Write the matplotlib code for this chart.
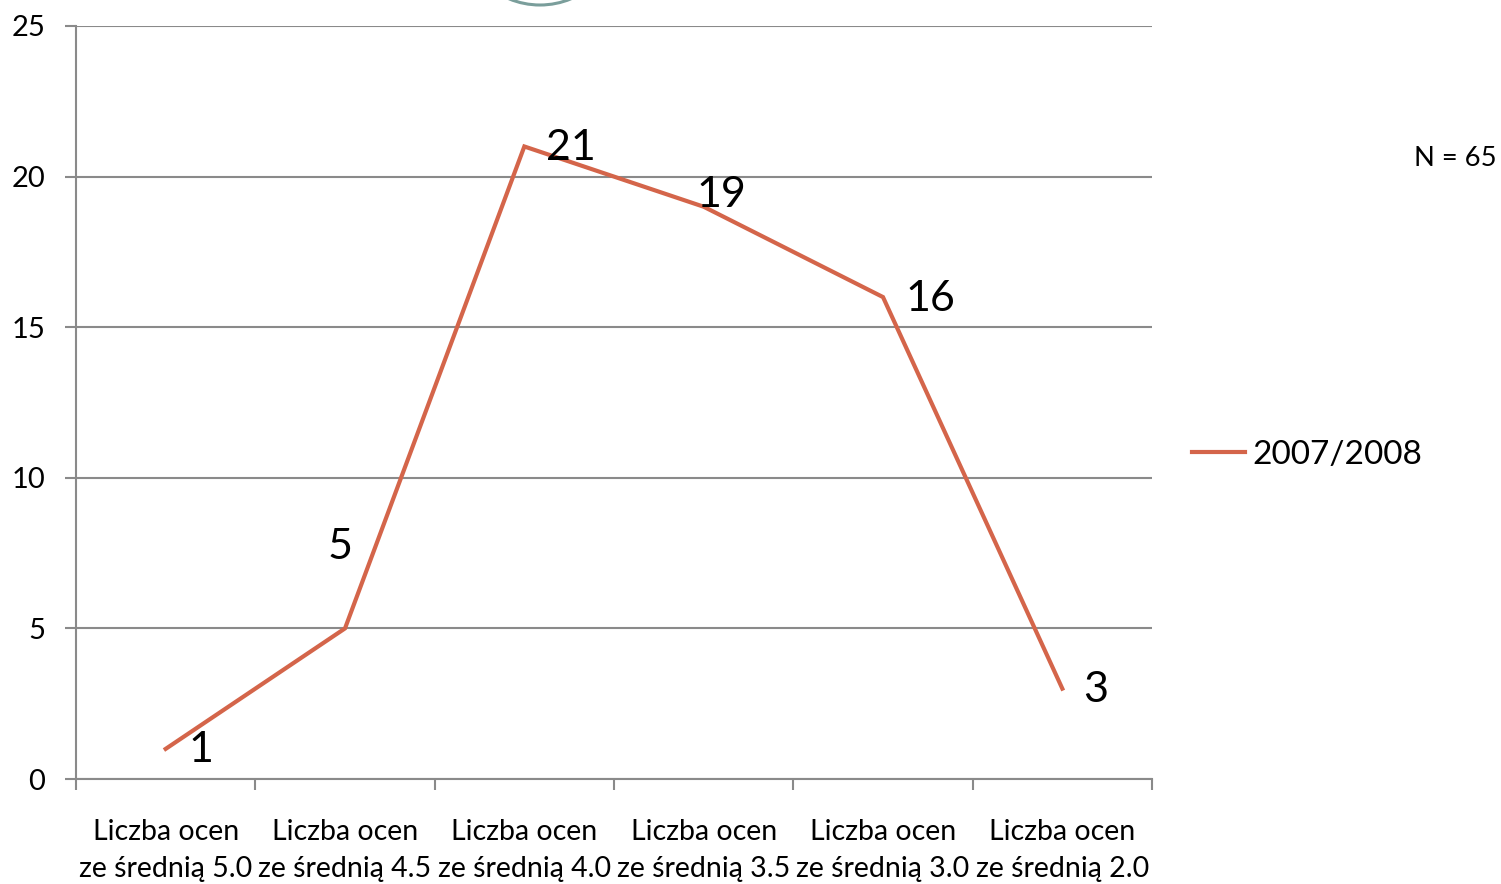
import numpy as np
import matplotlib
matplotlib.use("Agg")
import matplotlib.pyplot as plt
from matplotlib.patches import Ellipse

### Data ###
kategorie = ["Liczba ocen\nze średnią 5.0", "Liczba ocen\nze średnią 4.5",
             "Liczba ocen\nze średnią 4.0", "Liczba ocen\nze średnią 3.5",
             "Liczba ocen\nze średnią 3.0", "Liczba ocen\nze średnią 2.0"]
wartosci = [1, 5, 21, 19, 16, 3]
seria = "2007/2008"
# label offsets in pixels (dx, dy)
przesuniecia = [(35, -1), (-5, 81), (47, -2), (18, 12), (47, -2), (33, -1)]

plt.rcParams['font.family'] = ['Lato', 'DejaVu Sans']

W, H = 1501, 884
fig = plt.figure(figsize=(W / 100, H / 100), dpi=100)
ax = fig.add_axes([76 / W, 1 - 779 / H, (1152 - 76) / W, (779 - 26) / H])

szary = "#8a8a8a"
kolor = "#d4654a"

x = np.arange(len(wartosci))
linia, = ax.plot(x, wartosci, color=kolor, lw=3, solid_joinstyle='miter', label=seria)

for xi, v, (dx, dy) in zip(x, wartosci, przesuniecia):
    ax.annotate(str(v), (xi, v), xytext=(dx, dy), textcoords='offset pixels',
                ha='center', va='center', fontsize=31, color='black')

ax.set_xlim(-0.5, len(wartosci) - 0.5)
ax.set_ylim(0, 25)
ax.set_yticks([0, 5, 10, 15, 20, 25])
ax.yaxis.grid(True, color=szary, lw=1.5)
ax.set_axisbelow(True)

ax.set_xticks(x)
ax.set_xticklabels(kategorie, fontsize=20.5, linespacing=1.5)
ax.set_xticks(np.arange(-0.5, len(wartosci)), minor=True)
ax.tick_params(axis='x', which='major', length=0, pad=29)
ax.tick_params(axis='x', which='minor', length=8, width=1.5, color=szary, direction='out')
ax.tick_params(axis='y', length=8, width=1.5, color=szary, direction='out', labelsize=21, pad=14)

for s in ['top', 'right']:
    ax.spines[s].set_visible(False)
for s in ['left', 'bottom']:
    ax.spines[s].set_color(szary)
    ax.spines[s].set_linewidth(1.5)

fig.legend(handles=[linia], loc='center left', bbox_to_anchor=(1162 / W, 1 - 455 / H),
           frameon=False, fontsize=24, handlelength=1.6, handletextpad=0.2)

fig.text(1497 / W, 1 - 159 / H, "N = 65", ha='right', va='center', fontsize=19.7)

fig.add_artist(Ellipse((540 / W, 1 + 76 / H), 2 * 81 / W, 2 * 81 / H,
                       transform=fig.transFigure, fill=False, edgecolor="#7a9e9b", lw=2.2))

fig.savefig("out.png", dpi=100)
